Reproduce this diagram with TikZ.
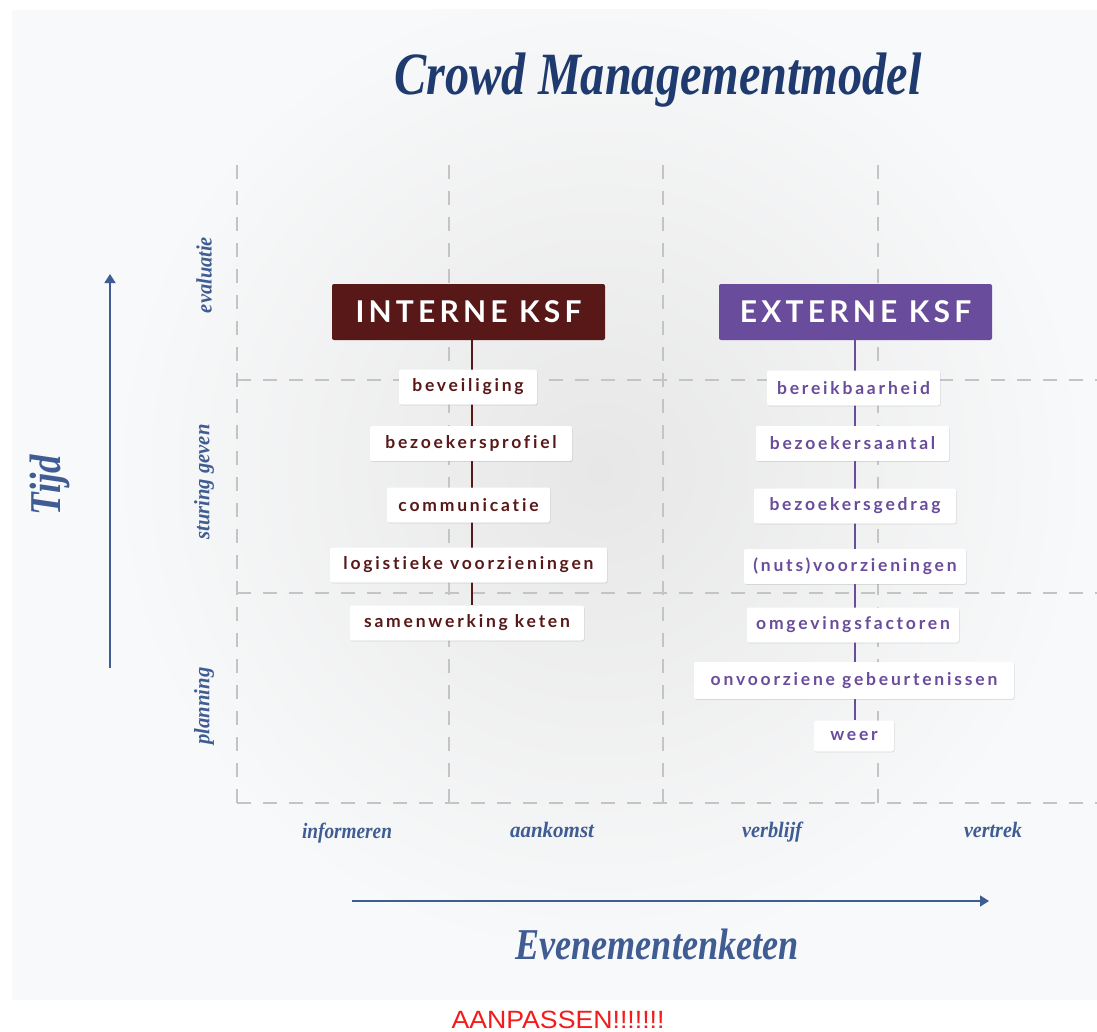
\documentclass[tikz,border=0pt]{standalone}
\usepackage{fontspec}
\usepackage{graphicx}
\setmainfont{Liberation Serif}
\newfontfamily\boxfont[LetterSpace=16,Ligatures=NoCommon]{Lato}
\newfontfamily\headfont[LetterSpace=14,Ligatures=NoCommon]{Lato}
\newfontfamily\labelfont{Liberation Serif}
\newfontfamily\redfont{Liberation Sans}
\usetikzlibrary{arrows.meta,shadows}
\definecolor{navy}{HTML}{1F3A6E}
\definecolor{axisblue}{HTML}{3F5C93}
\definecolor{maroon}{HTML}{581818}
\definecolor{violet}{HTML}{6A4C9C}
\definecolor{gridgray}{HTML}{C4C4C4}
\definecolor{panel}{HTML}{F8F9FA}
\definecolor{centergray}{HTML}{E7E7E7}
\definecolor{warnred}{HTML}{F21C1C}
\newcommand\fitw[2]{\resizebox{#1}{\height}{#2}}
\pgfdeclarelayer{bg}
\pgfdeclarelayer{mid}
\pgfsetlayers{bg,mid,main}
\begin{document}
\begin{tikzpicture}[x=1pt,y=-1pt,
  gridline/.style={draw=gridgray,line width=1.1pt,dash pattern=on 14pt off 12pt},
  headbox/.style={rounded corners=2pt,minimum height=56pt,minimum width=273pt,inner sep=0pt,
    text=white,font=\headfont\bfseries\fontsize{30}{30}\selectfont},
  ksfbox/.style={fill=white,rounded corners=2pt,minimum height=35pt,inner sep=0pt,
    font=\boxfont\bfseries\fontsize{17.5}{17.5}\selectfont,
    drop shadow={shadow xshift=0.6pt,shadow yshift=-0.8pt,opacity=0.12,fill=black}},
  ibox/.style={ksfbox,text=maroon},
  ebox/.style={ksfbox,text=violet},
  spine/.style={line width=1.3pt},
  axislabel/.style={text=axisblue,inner sep=0pt,font=\labelfont\itshape\bfseries\fontsize{22}{22}\selectfont},
  axisarrow/.style={draw=axisblue,line width=1.6pt,-{Triangle[length=9pt,width=11pt]},shorten >=0pt}
]
\useasboundingbox (0,0) rectangle (1097,1032);
\begin{pgfonlayer}{bg}
  \fill[white] (0,0) rectangle (1097,1032);
  \fill[panel] (12,10) rectangle (1097,1000);
  \begin{scope}
    \clip (12,10) rectangle (1097,1000);
    \shade[inner color=centergray,outer color=panel] (600,470) circle[radius=490];
  \end{scope}
  \foreach \gx in {237,449,663,878} {\draw[gridline] (\gx,165) -- (\gx,803);}
  \foreach \gy in {380,593,803} {\draw[gridline] (237,\gy) -- (1097,\gy);}
\end{pgfonlayer}

% title
\node[text=navy,inner sep=0pt,font=\labelfont\itshape\bfseries\fontsize{60}{60}\selectfont] (title) at (658,80) {\fitw{527pt}{Crowd Managementmodel}};

% headers
\node[headbox,fill=maroon] (ihead) at (468.5,312) {INTERNE KSF};
\node[headbox,fill=violet] (ehead) at (855.5,312) {EXTERNE KSF};

% internal boxes
\node[ibox,minimum width=138pt] (i1) at (468,387) {beveiliging};
\node[ibox,minimum width=202pt] (i2) at (471,443.5) {bezoekersprofiel};
\node[ibox,minimum width=163pt] (i3) at (468.5,505) {communicatie};
\node[ibox,minimum width=277pt] (i4) at (468.5,565) {logistieke voorzieningen};
\node[ibox,minimum width=234pt] (i5) at (467,623) {samenwerking keten};

% external boxes
\node[ebox,minimum width=173pt] (e1) at (853.5,388) {bereikbaarheid};
\node[ebox,minimum width=193pt] (e2) at (852.5,443.5) {bezoekersaantal};
\node[ebox,minimum width=202pt] (e3) at (855,506) {bezoekersgedrag};
\node[ebox,minimum width=222pt] (e4) at (855,566.5) {(nuts)voorzieningen};
\node[ebox,minimum width=212pt] (e5) at (853,625) {omgevingsfactoren};
\node[ebox,minimum width=320pt,minimum height=37pt] (e6) at (854,680.5) {onvoorziene gebeurtenissen};
\node[ebox,minimum width=80pt,minimum height=31pt] (e7) at (854,736) {weer};

% spines
\coordinate (ix) at (472,0);
\coordinate (ex) at (855,0);
\begin{pgfonlayer}{mid}
  \draw[spine,draw=maroon] (ihead.south -| ix) -- (i5.north -| ix);
  \draw[spine,draw=violet] (ehead.south -| ex) -- (e7.north -| ex);
\end{pgfonlayer}

% time axis
\coordinate (tstart) at (110,668);
\coordinate (tend) at (110,274);
\draw[axisarrow] (tstart) -- (tend);
\node[axislabel,rotate=90,font=\labelfont\itshape\bfseries\fontsize{44}{44}\selectfont] (tijd) at (50,485) {\fitw{60pt}{Tijd}};
\node[axislabel,rotate=90] (evaluatie) at (204,275) {\fitw{76pt}{evaluatie}};
\node[axislabel,rotate=90] (sturing) at (204,482) {\fitw{115pt}{sturing geven}};
\node[axislabel,rotate=90] (planning) at (204,706) {\fitw{77pt}{planning}};

% chain axis
\node[axislabel] (informeren) at (347,833) {\fitw{90pt}{informeren}};
\node[axislabel] (aankomst) at (552,830) {\fitw{84pt}{aankomst}};
\node[axislabel] (verblijf) at (772,832) {\fitw{60pt}{verblijf}};
\node[axislabel] (vertrek) at (993,830) {\fitw{58pt}{vertrek}};
\coordinate (cstart) at (352,901);
\coordinate (cend) at (989,901);
\draw[axisarrow] (cstart) -- (cend);
\node[axislabel,font=\labelfont\itshape\bfseries\fontsize{44}{44}\selectfont] (keten) at (657,944) {\fitw{283pt}{Evenementenketen}};

% note
\node[text=warnred,inner sep=0pt,font=\redfont\fontsize{25}{25}\selectfont] (note) at (558,1020) {\fitw{213pt}{AANPASSEN!!!!!!!}};
\end{tikzpicture}
\end{document}
